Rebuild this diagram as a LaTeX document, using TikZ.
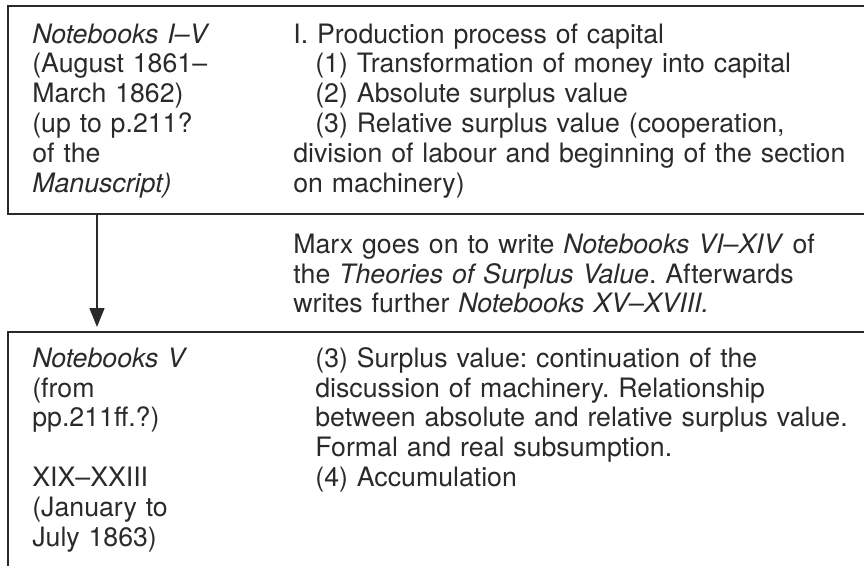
\documentclass[tikz,border=0pt]{standalone}
\usepackage{fontspec}
\setmainfont{TeX Gyre Heros}
\usepackage{tikz}
\usetikzlibrary{arrows.meta,positioning}
\definecolor{inkgray}{HTML}{2A2A2A}
\frenchspacing
\tikzset{
  frameline/.style={line width=1.1pt,inkgray},
  flowarrow/.style={-{Triangle[length=3.8mm,width=3mm]},line width=0.75pt,inkgray,shorten >=1mm},
  notetext/.style={inner sep=0pt,anchor=base west,align=left,text=inkgray,font=\fontsize{15.2pt}{17.07pt}\selectfont}
}

\begin{document}
\begin{tikzpicture}[x=0.02cm,y=-0.02cm]
  \useasboundingbox (0,0) rectangle (864,566);
  \coordinate (topNE) at (864,6);
  \coordinate (topNW) at (8,6);
  \coordinate (topSW) at (8,214);
  \coordinate (topSE) at (864,214);
  \coordinate (lowNE) at (864,332);
  \coordinate (lowNW) at (8,332);
  \coordinate (lowSW) at (8,566);
  \draw[frameline] (topNE) -- (topNW) -- (topSW) -- (topSE);
  \draw[frameline] (lowNE) -- (lowNW) -- (lowSW);
  \coordinate (arrowfrom) at (97,214);
  \coordinate (arrowto) at (97,332);
  \draw[flowarrow] (arrowfrom) -- (arrowto);
  \node[notetext,text width=4.8cm] (firstdates) at (32,43) {\textit{Notebooks I--V}\\(August 1861--\\March 1862)\\(up to p.211?\\of the\\\textit{Manuscript)}};
  \node[notetext,text width=11.2cm] (firstplan) at (293,43) {I. Production process of capital\\\hspace*{0.44cm}(1) Transformation of money into capital\\\hspace*{0.44cm}(2) Absolute surplus value\\\hspace*{0.44cm}(3) Relative surplus value (cooperation,\\division of labour and beginning of the section\\on machinery)};
  \node[notetext,text width=11.2cm] (theories) at (293,253) {Marx goes on to write \textit{Notebooks VI--XIV} of\\the \textit{Theories of Surplus Value}. Afterwards\\writes further \textit{Notebooks XV--XVIII.}};
  \node[notetext,text width=4.8cm] (seconddates) at (32,367) {\textit{Notebooks V}\\(from\\pp.211ff.?)\\[\baselineskip]XIX--XXIII\\(January to\\July 1863)};
  \node[notetext,text width=10.8cm] (secondplan) at (315,367) {(3) Surplus value: continuation of the\\discussion of machinery. Relationship\\between absolute and relative surplus value.\\Formal and real subsumption.\\(4) Accumulation};
\end{tikzpicture}
\end{document}
